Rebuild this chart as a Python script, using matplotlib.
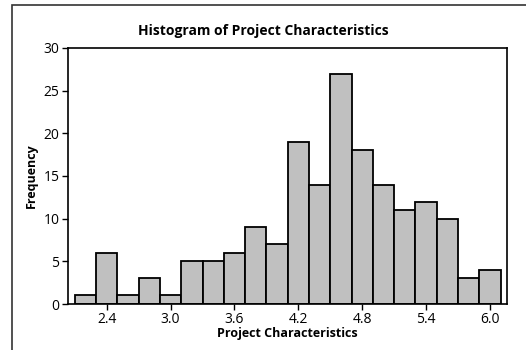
import matplotlib
matplotlib.use("Agg")
import matplotlib.pyplot as plt
from matplotlib.patches import Rectangle

bin_centers = [2.2, 2.4, 2.6, 2.8, 3.0, 3.2, 3.4, 3.6, 3.8, 4.0,
               4.2, 4.4, 4.6, 4.8, 5.0, 5.2, 5.4, 5.6, 5.8, 6.0]
frequencies = [1, 6, 1, 3, 1, 5, 5, 6, 9, 7,
               19, 14, 27, 18, 14, 11, 12, 10, 3, 4]
x_ticks = [2.4, 3.0, 3.6, 4.2, 4.8, 5.4, 6.0]
x_tick_labels = ["2.4", "3.0", "3.6", "4.2", "4.8", "5.4", "6.0"]
y_ticks = [0, 5, 10, 15, 20, 25, 30]

plt.rcParams['font.family'] = ['Open Sans', 'DejaVu Sans']

fig = plt.figure(figsize=(5.26, 3.5), dpi=100)
ax = fig.add_axes([0.129, 0.1314, 0.835, 0.7316])

ax.bar(bin_centers, frequencies, width=0.2, color='#c0c0c0',
       edgecolor='black', linewidth=1.3, align='center')

ax.set_xlim(2.035, 6.16)
ax.set_ylim(0, 30)
ax.set_xticks(x_ticks)
ax.set_xticklabels(x_tick_labels)
ax.set_yticks(y_ticks)
ax.tick_params(direction='out', length=4, width=1, labelsize=10, pad=2)
for s in ax.spines.values():
    s.set_linewidth(1.2)

ax.set_xlabel("Project Characteristics", fontsize=9, fontweight='bold', labelpad=0)
ax.set_ylabel("Frequency", fontsize=9, fontweight='bold', labelpad=4)
fig.text(0.5, 0.912, "Histogram of Project Characteristics", ha='center',
         va='center', fontsize=10, fontweight='bold')

# outer border (cropped at right/bottom)
fig.patches.append(Rectangle((12/526, -0.1), 1.2, 1.1 - 5/350,
                             transform=fig.transFigure, fill=False,
                             edgecolor='#333333', linewidth=1.2))

fig.savefig("out.png", dpi=100)
